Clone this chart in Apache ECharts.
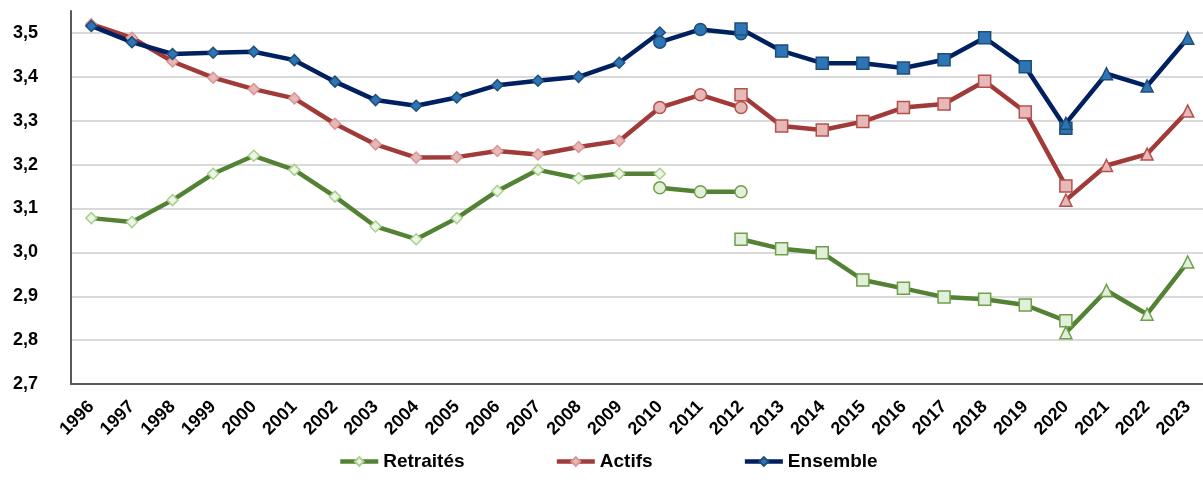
<!DOCTYPE html>
<html>
<head>
<meta charset="utf-8">
<title>Retraités / Actifs / Ensemble</title>
<script src="https://cdn.jsdelivr.net/npm/echarts@6/dist/echarts.min.js"></script>
<style>
  html, body { margin: 0; padding: 0; background: #fff; }
  #main { width: 1203px; height: 495px; }
</style>
</head>
<body>
<div id="main"></div>
<script>
// années
var years = ['1996', '1997', '1998', '1999', '2000', '2001', '2002', '2003', '2004', '2005',
  '2006', '2007', '2008', '2009', '2010', '2011', '2012', '2013', '2014', '2015',
  '2016', '2017', '2018', '2019', '2020', '2021', '2022', '2023'];

// graduations de l'axe vertical
var yTicks = [2.7, 2.8, 2.9, 3.0, 3.1, 3.2, 3.3, 3.4, 3.5];

// Retraités : 4 ruptures de série
var retraitesLosange = [3.078, 3.069, 3.119, 3.179, 3.220, 3.188, 3.127, 3.059, 3.030, 3.078,
  3.140, 3.188, 3.169, 3.179, 3.179];          // 1996-2010
var retraitesRond = [3.147, 3.138, 3.138];    // 2010-2012
var retraitesCarre = [3.030, 3.008, 2.999, 2.937, 2.918, 2.898, 2.893, 2.880, 2.844]; // 2012-2020
var retraitesTriangle = [2.817, 2.913, 2.859, 2.978]; // 2020-2023

// Actifs
var actifsLosange = [3.520, 3.489, 3.435, 3.398, 3.372, 3.351, 3.293, 3.246, 3.216, 3.217,
  3.231, 3.223, 3.240, 3.254, 3.330];
var actifsRond = [3.330, 3.359, 3.330];
var actifsCarre = [3.359, 3.288, 3.279, 3.298, 3.330, 3.338, 3.390, 3.320, 3.151];
var actifsTriangle = [3.119, 3.198, 3.224, 3.322];

// Ensemble
var ensembleLosange = [3.516, 3.479, 3.452, 3.455, 3.457, 3.438, 3.389, 3.347, 3.334, 3.353,
  3.381, 3.391, 3.400, 3.432, 3.501];
var ensembleRond = [3.479, 3.508, 3.498];
var ensembleCarre = [3.509, 3.459, 3.431, 3.431, 3.420, 3.439, 3.489, 3.423, 3.283];
var ensembleTriangle = [3.294, 3.407, 3.379, 3.488];

var FONT = 'Liberation Sans';

// place un segment sur toute la plage des années
function pad(arr, startYear) {
  var start = years.indexOf(startYear);
  return years.map(function (y, i) {
    var k = i - start;
    return (k >= 0 && k < arr.length) ? arr[k] : null;
  });
}

var styles = {
  'Retraités': {
    line: '#548235',
    diamond: { fill: '#EEF5E6', border: '#A9D18E' },
    other: { fill: '#E2EFDA', border: '#6E9F4A' }
  },
  'Actifs': {
    line: '#A03B39',
    diamond: { fill: '#E6B9B8', border: '#D99694' },
    other: { fill: '#E6B9B8', border: '#B5504D' }
  },
  'Ensemble': {
    line: '#002060',
    diamond: { fill: '#2E75B6', border: '#1F4E79' },
    other: { fill: '#2E75B6', border: '#1F4E79' }
  }
};

function seg(name, data, startYear, symbol, size) {
  var st = styles[name];
  var m = symbol === 'diamond' ? st.diamond : st.other;
  return {
    name: name,
    type: 'line',
    xAxisIndex: 0,
    yAxisIndex: 0,
    data: pad(data, startYear),
    symbol: symbol,
    symbolSize: size,
    showAllSymbol: true,
    connectNulls: false,
    animation: false,
    lineStyle: { color: st.line, width: 4.5 },
    itemStyle: { color: m.fill, borderColor: m.border, borderWidth: 1.5 },
    emphasis: { disabled: true }
  };
}

var series = [];
[['Retraités', retraitesLosange, retraitesRond, retraitesCarre, retraitesTriangle],
 ['Actifs', actifsLosange, actifsRond, actifsCarre, actifsTriangle],
 ['Ensemble', ensembleLosange, ensembleRond, ensembleCarre, ensembleTriangle]
].forEach(function (g) {
  series.push(seg(g[0], g[1], '1996', 'diamond', 11));
  series.push(seg(g[0], g[2], '2010', 'circle', 12));
  series.push(seg(g[0], g[3], '2012', 'rect', 12));
  series.push(seg(g[0], g[4], '2020', 'triangle', 12));
});

var myChart = echarts.init(document.getElementById('main'));

var option = {
  backgroundColor: '#fff',
  animation: false,
  grid: [
    // séries
    { left: 71, right: -5, top: 11, bottom: 111, outerBoundsMode: 'none' },
    // quadrillage + étiquettes
    { left: 71, right: -5, top: 33, bottom: 111, outerBoundsMode: 'none' }
  ],
  legend: {
    data: ['Retraités', 'Actifs', 'Ensemble'],
    left: 333,
    top: 447,
    itemWidth: 38,
    itemHeight: 11,
    itemGap: 90,
    selectedMode: false,
    lineStyle: { width: 4.5 },
    textStyle: { fontFamily: FONT, fontWeight: 'bold', fontSize: 19, color: '#000' }
  },
  xAxis: [
    {
      type: 'category',
      gridIndex: 0,
      data: years,
      boundaryGap: true,
      z: 5,
      axisLine: { lineStyle: { color: '#595959', width: 2 } },
      axisTick: { show: false },
      axisLabel: {
        interval: 0,
        rotate: 45,
        margin: 20,
        fontFamily: FONT,
        fontWeight: 'bold',
        fontSize: 18,
        color: '#000'
      }
    },
    {
      type: 'category',
      gridIndex: 1,
      data: years,
      show: false
    }
  ],
  yAxis: [
    {
      type: 'value',
      gridIndex: 0,
      min: 2.7,
      max: 3.55,
      z: 5,
      axisLine: { show: true, lineStyle: { color: '#595959', width: 2 } },
      axisTick: { show: false },
      axisLabel: { show: false },
      splitLine: { show: false }
    },
    {
      type: 'value',
      gridIndex: 1,
      min: yTicks[0],
      max: yTicks[yTicks.length - 1],
      interval: 0.1,
      axisLine: { show: false },
      axisTick: { show: false },
      axisLabel: {
        margin: 33,
        fontFamily: FONT,
        fontWeight: 'bold',
        fontSize: 18,
        color: '#000',
        formatter: function (v) { return v.toFixed(1).replace('.', ','); }
      },
      splitLine: { lineStyle: { color: '#D9D9D9', width: 2 } }
    }
  ],
  series: series
};

myChart.setOption(option);
</script>
</body>
</html>
